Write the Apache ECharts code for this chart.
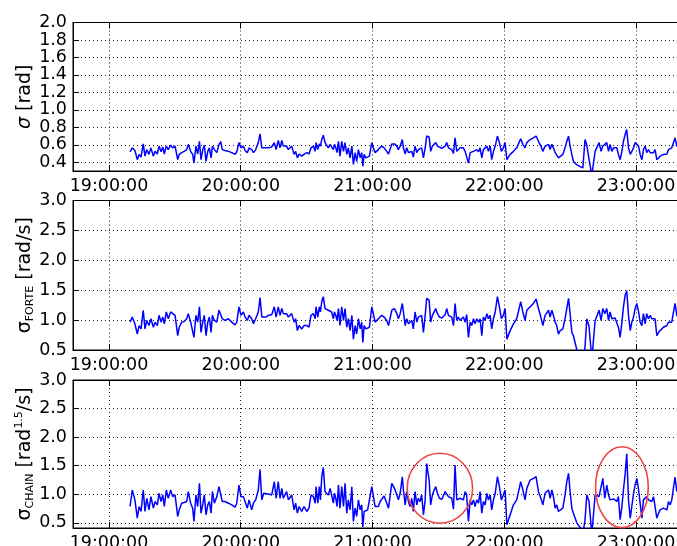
<!DOCTYPE html>
<html><head><meta charset="utf-8">
<script src="https://cdn.jsdelivr.net/npm/echarts@6/dist/echarts.min.js"></script>
<style>html,body{margin:0;padding:0;background:#fff}#c{width:677px;height:546px}</style>
</head><body><div id="c"></div>
<script>
// minutes after 19:00:00
const minutesAfter1900 = [
9.6,10.6,11.8,12.9,13.7,14.6,15.6,16.4,17.2,18.2,
19.1,20.2,21.0,22.0,22.8,23.7,24.5,25.2,26.1,27.0,
28.1,29.0,30.1,31.3,32.0,33.1,34.2,35.4,36.1,37.2,
38.1,38.7,39.6,40.4,41.2,41.9,42.7,43.4,44.2,45.0,
45.7,46.5,47.1,48.0,49.1,50.1,50.9,51.6,52.8,54.4,
55.9,57.4,58.2,59.2,60.1,61.2,62.0,63.0,63.8,65.0,
65.8,66.8,68.0,68.8,69.6,70.5,71.4,72.6,74.1,75.3,
76.1,77.1,77.9,78.7,79.4,80.2,80.9,81.7,82.5,83.2,
84.3,85.0,85.8,86.6,87.8,88.8,90.1,91.1,92.0,93.1,
93.9,94.3,95.1,95.8,96.3,96.9,97.6,98.4,99.2,99.9,
100.7,101.4,102.2,102.7,103.3,103.9,104.5,105.2,106.0,106.8,
107.5,108.3,109.0,109.8,110.6,111.3,112.1,112.8,113.6,114.4,
115.1,115.6,116.2,117.0,117.8,118.6,119.7,120.4,121.2,122.0,
122.7,123.5,124.2,125.3,126.5,127.3,128.0,128.8,130.0,131.1,131.8,132.6,133.6,
134.1,134.9,135.6,136.4,137.1,137.9,138.6,139.4,140.2,140.9,
141.7,142.4,143.2,144.0,144.7,145.8,146.5,147.3,148.1,148.8,
149.6,150.5,151.6,152.3,153.1,153.8,154.6,155.3,156.1,156.9,
157.6,158.4,159.1,159.9,160.7,161.4,162.2,162.9,163.7,164.5,
165.2,166.0,166.7,167.5,168.3,169.0,169.8,170.5,171.3,172.1,
172.8,173.6,174.3,175.1,175.9,176.9,177.8,178.7,179.6,180.4,
181.2,182.7,184.2,185.7,186.6,187.5,188.5,189.5,190.3,191.8,
193.3,194.5,195.6,196.7,197.6,198.6,199.4,200.2,200.9,201.7,
202.4,203.2,203.9,204.7,205.5,206.7,207.7,208.5,209.3,210.0,
210.8,211.5,213.1,214.6,215.8,216.8,217.6,218.6,219.9,221.4,
223.2,224.1,224.9,225.8,226.7,227.5,228.2,229.0,229.8,230.5,
231.3,232.0,232.8,233.6,234.3,235.1,235.8,236.6,237.4,238.1,
238.9,239.6,240.4,241.2,241.9,242.7,243.4,244.2,244.9,245.7,
246.5,247.2,248.0,248.7,249.5,250.3,251.0,252.5,253.3,254.1,
254.8,255.6,256.3,257.1,257.8,258.6,259.8
];
const sigma = [
.52,.565,.535,.43,.49,.46,.61,.47,.545,.49,
.565,.47,.525,.495,.585,.52,.575,.495,.585,.545,
.595,.565,.585,.43,.49,.51,.525,.545,.605,.525,
.49,.39,.585,.495,.64,.43,.545,.595,.41,.525,
.565,.45,.585,.545,.51,.605,.635,.545,.535,.525,
.51,.49,.52,.625,.565,.585,.535,.51,.565,.545,
.51,.545,.625,.725,.565,.585,.565,.565,.575,.625,
.545,.65,.565,.65,.585,.565,.585,.545,.525,.585,
.49,.525,.45,.495,.47,.49,.51,.495,.565,.585,
.525,.625,.545,.61,.585,.66,.71,.625,.64,.565,
.605,.575,.545,.605,.565,.51,.64,.47,.64,.525,
.625,.49,.565,.45,.585,.375,.51,.41,.545,.45,
.51,.355,.49,.45,.46,.47,.625,.565,.51,.525,
.545,.535,.585,.565,.525,.495,.49,.61,.61,.585,.545,.585,.66,
.565,.495,.565,.51,.49,.525,.46,.585,.51,.545,
.525,.565,.45,.565,.70,.69,.525,.585,.605,.625,
.585,.565,.56,.565,.585,.625,.565,.585,.545,.50,
.68,.525,.545,.565,.545,.565,.525,.51,.39,.51,
.49,.525,.51,.545,.52,.565,.45,.545,.525,.585,
.525,.585,.43,.525,.585,.70,.625,.525,.565,.625,
.43,.49,.525,.565,.585,.67,.605,.565,.625,.66,
.68,.70,.64,.585,.525,.585,.565,.605,.545,.605,
.565,.51,.49,.45,.47,.49,.565,.64,.70,.585,
.49,.41,.37,.35,.335,.66,.60,.44,.25,.525,
.625,.525,.585,.565,.625,.525,.605,.525,.565,.545,
.565,.49,.43,.525,.64,.72,.775,.565,.49,.525,
.565,.625,.64,.585,.49,.43,.545,.585,.51,.545,
.51,.525,.51,.545,.43,.45,.47,.49,.51,.495,
.545,.525,.565,.625,.68,.585,.56
];
const sigmaForte = [
.966,1.051,.938,.767,.909,.852,1.165,.852,.994,.909,
1.023,.881,.966,.909,1.08,.966,1.051,.938,1.136,1.023,
1.136,1.108,1.08,.739,.881,.966,.977,1.023,1.108,.966,
.938,.71,1.08,.966,1.222,.795,.966,1.08,.739,.966,
1.051,.795,1.08,.994,.966,1.165,1.193,1.023,.994,1.023,
.966,.92,.966,1.222,1.08,1.136,1.051,.994,1.08,1.023,
.938,1.023,1.136,1.375,1.051,1.08,1.051,1.08,1.091,1.222,
1.051,1.222,1.08,1.193,1.108,1.091,1.108,1.051,1.023,1.108,
.966,1.023,.824,.909,.852,.909,.909,.881,1.08,1.108,
1.023,1.222,1.051,1.222,1.136,1.307,1.392,1.193,1.222,1.165,
1.193,1.136,1.023,1.136,1.08,.994,1.193,.909,1.222,.994,
1.193,.881,1.023,.824,1.08,.682,.909,.767,1.023,.852,
.966,.625,.909,.852,.863,.881,1.222,1.108,.966,.994,
1.023,1.034,1.08,1.051,.994,.909,.881,1.165,1.193,1.108,1.023,1.108,1.278,
1.136,.909,1.023,.938,.909,.994,.852,1.136,.966,1.051,
1.023,1.08,.795,1.08,1.364,1.335,.966,1.08,1.136,1.193,
1.108,1.051,1.034,1.051,1.091,1.193,1.08,1.108,1.051,.909,
1.278,.994,1.051,.994,1.023,1.051,.966,1.091,.71,.966,
.909,1.023,.938,1.023,.966,1.023,.739,1.051,.994,1.108,
1.023,1.08,.852,1.023,1.136,1.392,1.222,1.023,1.08,1.193,
.682,.824,.938,1.023,1.034,1.307,1.136,.994,1.165,1.222,
1.278,1.352,1.193,1.051,.909,1.08,1.051,1.165,1.051,1.165,
1.08,.966,.909,.767,.824,.852,1.023,1.193,1.364,1.108,
.795,.739,.50,.40,.33,.55,1.02,.90,.35,.99,
1.165,.994,1.193,1.108,1.193,.994,1.136,1.023,1.051,1.034,
1.051,.881,.71,.966,1.222,1.42,1.489,1.08,.824,.966,
1.051,1.193,1.278,1.136,.966,.909,1.108,.938,1.108,1.023,
1.08,1.023,1.051,1.023,.739,.795,.824,.881,.909,.909,
.966,.994,.966,1.136,1.278,1.08,1.0
];
const sigmaChain = [
.786,1.075,.902,.583,.786,.699,1.075,.699,.930,.728,
.959,.757,.873,.815,1.017,.873,.988,.786,1.075,.930,
1.075,.959,.988,.612,.728,.844,.855,.873,1.046,.844,
.757,.525,.988,.786,1.191,.67,.815,.988,.641,.815,
.873,.67,1.046,.844,.959,1.133,1.122,.873,.873,.844,
.815,.774,.844,1.162,.959,.959,.930,.757,.902,.728,
.844,.902,1.075,1.435,.902,1.017,1.017,1.006,.988,1.22,
.930,1.22,.930,1.104,.930,.959,1.046,.902,.873,.988,
.728,.844,.67,.786,.699,.786,.699,.757,.988,.959,
.844,1.133,.844,1.133,.902,1.307,1.469,1.046,1.046,.988,
1.104,.988,.844,1.017,.930,.786,1.162,.757,1.133,.786,
1.191,.67,.902,.728,1.133,.525,.757,.612,.902,.728,
.815,.43,.699,.67,.728,.699,1.133,1.133,.786,.757,
.786,.873,.902,.971,.844,.757,.739,1.191,1.104,.988,.902,1.017,1.307,
1.075,.815,1.046,.873,.786,.930,.699,1.046,.815,.930,
.873,.988,.641,.902,1.539,1.249,.815,.988,1.075,1.133,
1.017,.930,.913,.930,1.046,1.017,.959,.959,.93,.74,
1.51,.902,.930,.930,.959,.902,1.046,.988,.525,.902,
.815,.902,.786,.902,.844,1.046,.67,.873,.815,1.017,
.902,.988,.728,.902,1.017,1.307,1.133,.902,.988,1.075,
.467,.641,.815,.902,.930,1.22,1.075,.902,1.104,1.249,
1.278,1.307,1.046,.930,.815,1.017,.988,1.075,.930,1.075,
.959,.757,.815,.699,.728,.757,.988,1.22,1.365,1.046,
.757,.67,.496,.42,.30,.55,.99,.88,.30,.99,
.96,.93,1.278,.93,1.16,.988,.902,.930,.92,.90,
.873,.96,.554,.786,1.075,1.365,1.71,.902,.583,.786,
1.017,1.162,1.278,1.075,.844,.583,.902,.930,.959,.902,
.930,.873,.959,.930,.583,.67,.728,.757,.757,.728,
.873,.815,.902,.930,1.30,1.05,1.15
];
// x ticks (minutes after 19:00) and their labels
const hourTicks = [0, 60, 120, 180, 240];
const hourTickLabels = ['19:00:00', '20:00:00', '21:00:00', '22:00:00', '23:00:00'];
// red annotation ellipses on the third panel (centre minute, centre value, radius in minutes, radius in value)
const ellipseCenterMinute = [150.7, 233.6];
const ellipseCenterValue = [1.105, 1.124];
const ellipseRadiusMinute = [14.9, 12.0];
const ellipseRadiusValue = [0.612, 0.708];

if (sigma.length !== minutesAfter1900.length || sigmaForte.length !== minutesAfter1900.length || sigmaChain.length !== minutesAfter1900.length) {
  throw new Error('length mismatch ' + minutesAfter1900.length + ' ' + sigma.length + ' ' + sigmaForte.length + ' ' + sigmaChain.length);
}

const FONT = 'DejaVu Sans';
const X_MIN = -16.39, X_MAX = 259.6;
const gridBoxes = [
  {top: 22.5, height: 148.5},
  {top: 200.5, height: 149.5},
  {top: 380, height: 148}
];
// panel 1 gets a hair of headroom so that the 2.0 label is a regular tick label
const yScales = [
  {min: 0.3, max: 2.0001, step: 0.2, showMax: false},
  {min: 0.5, max: 3.0, step: 0.5, showMax: true},
  {min: 0.41, max: 3.0, step: 0.5, showMax: true}
];
const yNames = [
  '{i|σ}{b| [rad]}',
  '{b|σ}{sub|FORTE}{b| [rad/s]}',
  '{b|σ}{sub|CHAIN}{b| [rad}{sup|1.5}{b|/s]}'
];
const dotted = {type: [1, 3], color: '#222', width: 1};
const nameRich = {
  b: {fontFamily: FONT, fontSize: 19, lineHeight: 22, color: '#000'},
  i: {fontFamily: FONT, fontSize: 19, lineHeight: 22, color: '#000', fontStyle: 'italic'},
  sub: {fontFamily: FONT, fontSize: 11, lineHeight: 11, color: '#000', verticalAlign: 'bottom'},
  sup: {fontFamily: FONT, fontSize: 11, lineHeight: 11, color: '#000', verticalAlign: 'top'}
};

function hourLabel(v) {
  const k = hourTicks.findIndex(h => Math.abs(h - v) < 1e-6);
  return k >= 0 ? hourTickLabels[k] : '';
}

const grid = [], xAxis = [], yAxis = [], series = [];
const values = [sigma, sigmaForte, sigmaChain];
for (let i = 0; i < 3; i++) {
  grid.push({left: 73, right: -2, top: gridBoxes[i].top, height: gridBoxes[i].height,
    show: true, borderColor: '#000', borderWidth: 1, backgroundColor: 'transparent',
    containLabel: false, outerBoundsMode: 'none'});
  xAxis.push({type: 'value', gridIndex: i, position: 'bottom', min: X_MIN, max: X_MAX,
    minInterval: 60, maxInterval: 60, splitNumber: 5,
    axisLine: {show: true, onZero: false, lineStyle: {color: '#000', width: 1}},
    axisTick: {show: true, inside: true, length: 6, lineStyle: {color: '#000', width: 1}},
    axisLabel: {show: true, margin: 6, color: '#000', fontFamily: FONT, fontSize: 17.5,
      formatter: hourLabel, showMinLabel: true, showMaxLabel: true, hideOverlap: false},
    splitLine: {show: true, lineStyle: dotted}});
  xAxis.push({type: 'value', gridIndex: i, position: 'top', min: X_MIN, max: X_MAX,
    minInterval: 60, maxInterval: 60, splitNumber: 5,
    axisLine: {show: true, onZero: false, lineStyle: {color: '#000', width: 1}},
    axisTick: {show: true, inside: true, length: 6, lineStyle: {color: '#000', width: 1}},
    axisLabel: {show: false}, splitLine: {show: false}});
  const ys = yScales[i];
  yAxis.push({type: 'value', gridIndex: i, min: ys.min, max: ys.max,
    minInterval: ys.step, maxInterval: ys.step, splitNumber: 8,
    axisLine: {show: true, onZero: false, lineStyle: {color: '#000', width: 1}},
    axisTick: {show: true, inside: true, length: 6, lineStyle: {color: '#000', width: 1}},
    axisLabel: {margin: 6, color: '#000', fontFamily: FONT, fontSize: 17.5, lineHeight: 13,
      showMinLabel: true, showMaxLabel: ys.showMax, hideOverlap: false, interval: 0,
      formatter: v => (Math.abs(v / ys.step - Math.round(v / ys.step)) < 1e-6 ? v.toFixed(1) : '')},
    splitLine: {show: true, lineStyle: dotted},
    name: yNames[i], nameLocation: 'middle', nameGap: 37, nameRotate: 90, nameMoveOverlap: false,
    nameTextStyle: {fontFamily: FONT, fontSize: 19, color: '#000', rich: nameRich}});
  series.push({type: 'line', xAxisIndex: 2 * i, yAxisIndex: i, clip: true,
    showSymbol: false, symbol: 'none', animation: false,
    lineStyle: {color: '#0000ff', width: 1.5},
    data: minutesAfter1900.map((t, k) => [t, values[i][k]])});
}

const chart = echarts.init(document.getElementById('c'), null, {renderer: 'canvas'});
chart.setOption({animation: false, backgroundColor: '#fff', grid, xAxis, yAxis, series});

const ellipses = ellipseCenterMinute.map((t, k) => {
  const c = chart.convertToPixel({seriesIndex: 2}, [t, ellipseCenterValue[k]]);
  const ex = chart.convertToPixel({seriesIndex: 2}, [t + ellipseRadiusMinute[k], ellipseCenterValue[k]]);
  const ey = chart.convertToPixel({seriesIndex: 2}, [t, ellipseCenterValue[k] + ellipseRadiusValue[k]]);
  return {type: 'ellipse', silent: true, z: 100,
    shape: {cx: c[0], cy: c[1], rx: Math.abs(ex[0] - c[0]), ry: Math.abs(c[1] - ey[1])},
    style: {fill: 'none', stroke: '#ee4646', lineWidth: 1.6}};
});
chart.setOption({graphic: ellipses});
</script>
</body></html>
